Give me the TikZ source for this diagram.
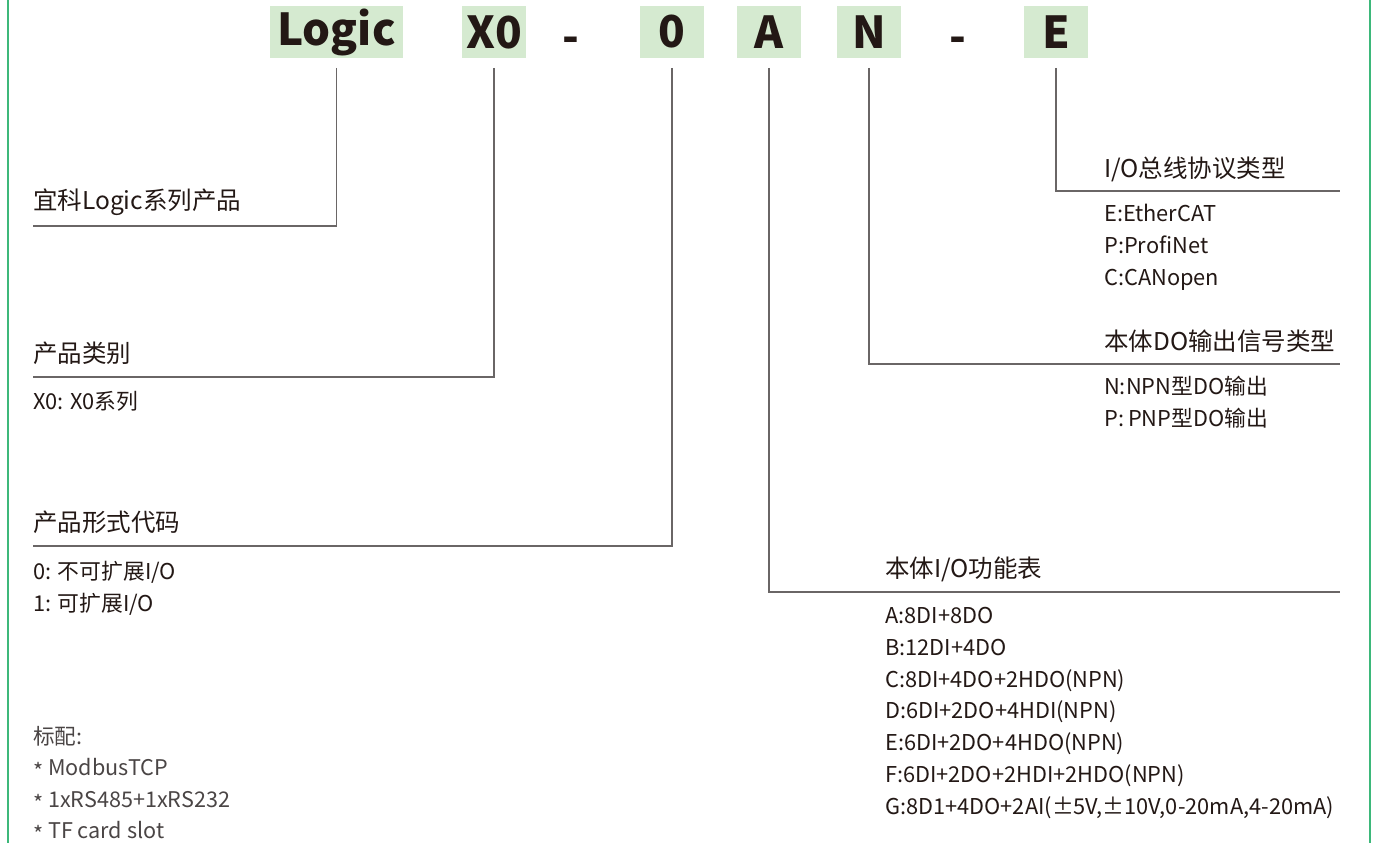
\documentclass[tikz,border=0pt]{standalone}
\usepackage{fontspec}
\setmainfont{Noto Sans CJK SC}
\definecolor{txt}{HTML}{231815}
\definecolor{ln}{HTML}{6A6666}
\definecolor{boxg}{HTML}{D5EAD0}
\definecolor{frame}{HTML}{3DB87A}
\definecolor{note}{HTML}{4A4545}
\begin{document}
\begin{tikzpicture}[x=1pt,y=-1pt,
  codebox/.style={fill=boxg,inner sep=0pt,minimum width=64pt,minimum height=52pt,
    font=\fontsize{44}{48}\selectfont\bfseries,text=txt},
  dashlbl/.style={inner sep=0pt,font=\fontsize{44}{48}\selectfont\bfseries,text=txt},
  hdr/.style={anchor=base west,inner sep=0pt,font=\fontsize{24.5}{28}\selectfont,text=txt},
  body/.style={anchor=base west,inner sep=0pt,font=\fontsize{21.8}{24}\selectfont,text=txt},
  notet/.style={anchor=base west,inner sep=0pt,font=\fontsize{21.6}{24}\selectfont,text=note},
  conn/.style={draw=ln,line width=1.3pt},
  border/.style={draw=frame,line width=2pt}]
\useasboundingbox (0,0) rectangle (1374,843);
% frame lines
\draw[border] (8,0) -- (8,843);
\draw[border] (1370,0) -- (1370,843);
% code boxes
\node[codebox,minimum width=133pt] (bLogic) at (336.5,32) {Logic};
\node[codebox] (bX) at (494,32) {X0};
\node[dashlbl] (d1) at (571,45) {-};
\node[codebox] (bZ) at (672,32) {0};
\node[codebox] (bA) at (769,32) {A};
\node[codebox] (bN) at (869,32) {N};
\node[dashlbl] (d2) at (958,45) {-};
\node[codebox] (bE) at (1056,32) {E};
% left headers
\node[hdr] (hLogic) at (33,209) {宜科Logic系列产品};
\node[hdr] (hX) at (33,362) {产品类别};
\node[body] (tX) at (33,409.5) {X0: X0系列};
\node[hdr] (hZ) at (33,531) {产品形式代码};
\node[body] (tZ1) at (33,579.5) {0: 不可扩展I/O};
\node[body] (tZ2) at (33,611.5) {1: 可扩展I/O};
\node[notet] (n0) at (33,744.5) {标配:};
\node[notet] (n1) at (33,775.5) {\raisebox{-0.18em}{*} ModbusTCP};
\node[notet] (n2) at (33,807.5) {\raisebox{-0.18em}{*} 1xRS485+1xRS232};
\node[notet] (n3) at (33,838.5) {\raisebox{-0.18em}{*} TF card slot};
% right headers
\node[hdr] (hE) at (1104,177) {I/O总线协议类型};
\node[body] (tE1) at (1104,221.5) {E:EtherCAT};
\node[body] (tE2) at (1104,253.5) {P:ProfiNet};
\node[body] (tE3) at (1104,285.5) {C:CANopen};
\node[hdr] (hN) at (1104,350) {本体DO输出信号类型};
\node[body] (tN1) at (1104,394.5) {N:NPN型DO输出};
\node[body] (tN2) at (1104,426.5) {P:\hspace{4pt}PNP型DO输出};
\node[hdr] (hA) at (885,577) {本体I/O功能表};
\node[body] (tA1) at (885,623.5) {A:8DI+8DO};
\node[body] (tA2) at (885,655.3) {B:12DI+4DO};
\node[body] (tA3) at (885,687.1) {C:8DI+4DO+2HDO(NPN)};
\node[body] (tA4) at (885,718.9) {D:6DI+2DO+4HDI(NPN)};
\node[body] (tA5) at (885,750.7) {E:6DI+2DO+4HDO(NPN)};
\node[body] (tA6) at (885,782.5) {F:6DI+2DO+2HDI+2HDO(NPN)};
\node[body] (tA7) at (885,814.3) {G:8D1+4DO+2AI(±5V,±10V,0-20mA,4-20mA)};
% connector coordinates
\coordinate (sLogic) at (336.5,68);
\coordinate (kLogic) at (336.5,226);
\coordinate (eLogic) at (33,226);
\coordinate (sX) at (494,68);
\coordinate (kX) at (494,377);
\coordinate (eX) at (33,377);
\coordinate (sZ) at (672,68);
\coordinate (kZ) at (672,546);
\coordinate (eZ) at (33,546);
\coordinate (sA) at (769,68);
\coordinate (kA) at (769,592);
\coordinate (eA) at (1340,592);
\coordinate (sN) at (869,68);
\coordinate (kN) at (869,364);
\coordinate (eN) at (1340,364);
\coordinate (sE) at (1056,68);
\coordinate (kE) at (1056,191);
\coordinate (eE) at (1340,191);
\draw[conn] (sLogic) -- (kLogic) -- (eLogic);
\draw[conn] (sX) -- (kX) -- (eX);
\draw[conn] (sZ) -- (kZ) -- (eZ);
\draw[conn] (sA) -- (kA) -- (eA);
\draw[conn] (sN) -- (kN) -- (eN);
\draw[conn] (sE) -- (kE) -- (eE);
\end{tikzpicture}
\end{document}
